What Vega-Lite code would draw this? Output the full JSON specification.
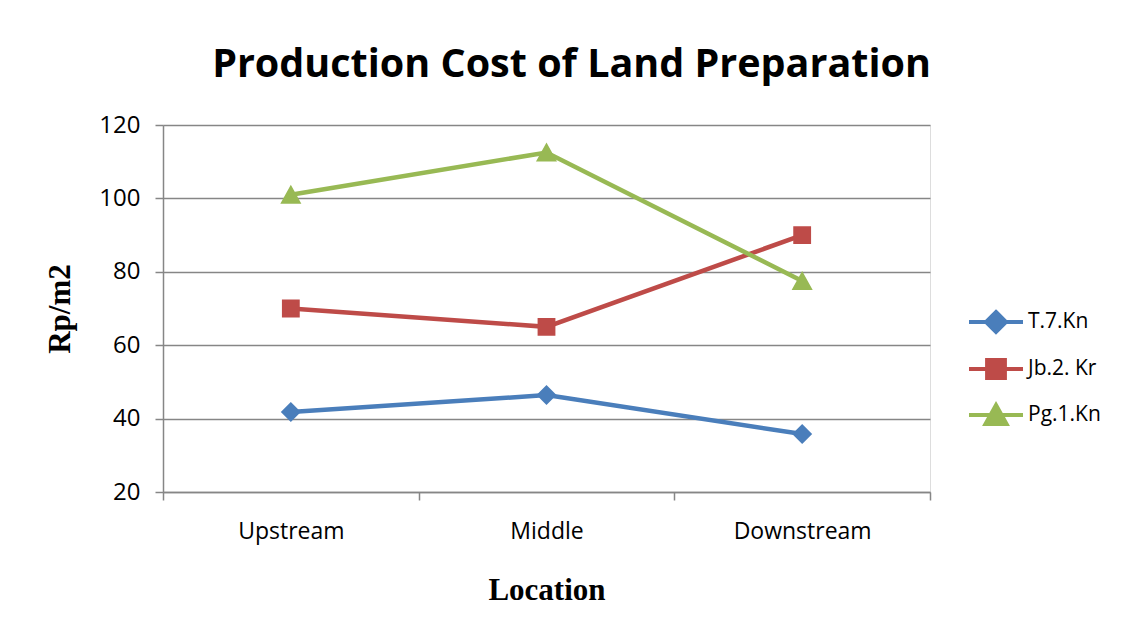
{
  "$schema": "https://vega.github.io/schema/vega-lite/v6.json",
  "width": 767,
  "height": 367,
  "autosize": "none",
  "padding": {"left": 163, "top": 125, "right": 193, "bottom": 139},
  "background": "white",
  "title": {
    "text": "Production Cost of Land Preparation",
    "font": "Open Sans",
    "fontSize": 39.5,
    "fontWeight": "bold",
    "color": "black",
    "anchor": "middle",
    "dx": 25,
    "offset": 28
  },
  "data": {
    "values": [
      {"location": "Upstream", "series": "T.7.Kn", "cost": 41.8},
      {"location": "Middle", "series": "T.7.Kn", "cost": 46.4},
      {"location": "Downstream", "series": "T.7.Kn", "cost": 35.8},
      {"location": "Upstream", "series": "Jb.2. Kr", "cost": 70},
      {"location": "Middle", "series": "Jb.2. Kr", "cost": 65},
      {"location": "Downstream", "series": "Jb.2. Kr", "cost": 90},
      {"location": "Upstream", "series": "Pg.1.Kn", "cost": 101},
      {"location": "Middle", "series": "Pg.1.Kn", "cost": 112.5},
      {"location": "Downstream", "series": "Pg.1.Kn", "cost": 77.5}
    ]
  },
  "encoding": {
    "x": {
      "field": "location",
      "type": "nominal",
      "sort": ["Upstream", "Middle", "Downstream"],
      "scale": {"type": "band", "paddingInner": 0, "paddingOuter": 0},
      "axis": {
        "title": "Location",
        "titleFont": "Liberation Serif",
        "titleFontSize": 31,
        "titleFontWeight": "bold",
        "titleColor": "black",
        "titlePadding": 32,
        "labelFont": "Open Sans",
        "labelFontSize": 23,
        "labelColor": "black",
        "labelAngle": 0,
        "labelPadding": 20,
        "tickBand": "extent",
        "tickSize": 8,
        "tickColor": "#868686",
        "tickWidth": 1.5,
        "domainColor": "#868686",
        "domainWidth": 1.5,
        "grid": false
      }
    },
    "y": {
      "field": "cost",
      "type": "quantitative",
      "scale": {"domain": [20, 120], "nice": false, "zero": false},
      "axis": {
        "title": "Rp/m2",
        "titleFont": "Liberation Serif",
        "titleFontSize": 31,
        "titleFontWeight": "bold",
        "titleColor": "black",
        "titlePadding": 22,
        "values": [20, 40, 60, 80, 100, 120],
        "labelFont": "Open Sans",
        "labelFontSize": 24,
        "labelColor": "black",
        "labelPadding": 15,
        "tickSize": 8,
        "tickColor": "#868686",
        "tickWidth": 1.5,
        "domainColor": "#868686",
        "domainWidth": 1.5,
        "grid": true,
        "gridColor": "#868686",
        "gridWidth": 1.5
      }
    },
    "color": {
      "field": "series",
      "type": "nominal",
      "scale": {"domain": ["T.7.Kn", "Jb.2. Kr", "Pg.1.Kn"], "range": ["#4a7ebb", "#be4b48", "#98b954"]},
      "legend": {
        "title": null,
        "orient": "none",
        "legendX": 804,
        "legendY": 168,
        "padding": 0,
        "symbolSize": 2916,
        "symbolOpacity": 1,
        "symbolStrokeWidth": 4,
        "labelFont": "Open Sans",
        "labelFontSize": 21,
        "labelColor": "black",
        "labelOffset": 3,
        "rowPadding": 0
      }
    }
  },
  "layer": [
    {
      "mark": {"type": "line", "strokeWidth": 4.5}
    },
    {
      "mark": {"type": "point", "filled": true, "opacity": 1, "size": 2916},
      "encoding": {
        "shape": {
          "field": "series",
          "type": "nominal",
          "scale": {
            "domain": ["T.7.Kn", "Jb.2. Kr", "Pg.1.Kn"],
            "range": [
              "M-1,0H1M0,-0.37L0.37,0L0,0.37L-0.37,0Z",
              "M-1,0H1M-0.33,-0.33H0.33V0.33H-0.33Z",
              "M-1,0H1M0,-0.37L0.39,0.33L-0.39,0.33Z"
            ]
          },
          "legend": {
            "title": null,
            "orient": "none",
            "legendX": 804,
            "legendY": 168,
            "padding": 0,
            "symbolSize": 2916,
            "labelFont": "Open Sans",
            "labelFontSize": 21,
            "labelOffset": 3,
            "rowPadding": 0
          }
        }
      }
    }
  ]
}
